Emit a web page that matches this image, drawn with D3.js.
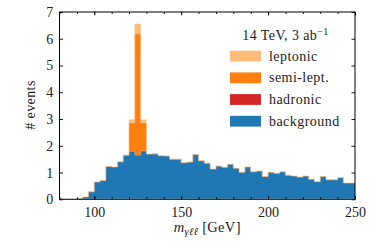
<!DOCTYPE html>
<html>
<head>
<meta charset="utf-8">
<script src="https://cdn.jsdelivr.net/npm/d3@7"></script>
<style>
  body { margin: 0; background: #fff; }
  text { font-family: "Liberation Serif", "DejaVu Serif", serif; fill: #222; }
</style>
</head>
<body>
<div id="chart"></div>
<script>
// histogram binning: 51 bins of 10/3 GeV from 80 to 250
var binStart = 80, binWidth = 10 / 3;

var background = [0, 0, 0, 0.03, 0.09, 0.28, 0.65, 0.70, 1.23, 1.21,
  1.40, 1.65, 1.79, 1.64, 1.80, 1.69, 1.70, 1.63, 1.62, 1.50,
  1.50, 1.37, 1.39, 1.67, 1.44, 1.35, 1.13, 1.24, 1.20, 1.31,
  1.16, 1.01, 1.21, 1.03, 1.06, 0.85, 1.01, 0.97, 1.03, 0.90,
  0.87, 0.83, 0.87, 0.75, 0.66, 0.85, 0.73, 0.73, 0.81, 0.61, 0.61];
// signal only in the three bins around 125 GeV (bins 12, 13, 14)
var signalBins = [12, 13, 14];
var hadronicPeak = [0.01, 0.02, 0.01];
var semileptPeak = [1.06, 4.52, 1.05];
var leptonicPeak = [0.11, 0.37, 0.11];

var keys = ['background', 'hadronic', 'semilept', 'leptonic'];
var labels = ['background', 'hadronic', 'semi-lept.', 'leptonic'];
var colors = {background: '#1f77b4', hadronic: '#d62728', semilept: '#ff7f0e', leptonic: '#ffbb78'};
var xMajor = [100, 150, 200, 250];
var xMinor = d3.range(80, 251, 10);
var yMajor = [0, 1, 2, 3, 4, 5, 6, 7];

function draw() {
  var W = 374, H = 249;
  var mLeft = 59.5, mRight = 355, mTop = 12, mBottom = 199.3;
  var fs = '14px';

  var svg = d3.select('#chart').append('svg')
    .attr('width', W).attr('height', H);

  var x = d3.scaleLinear().domain([80, 250]).range([mLeft, mRight]);
  var y = d3.scaleLinear().domain([0, 7]).range([mBottom, mTop]);

  function peak(arr, i) {
    var k = signalBins.indexOf(i);
    return k >= 0 ? arr[k] : 0;
  }

  // rows per bin, plus one closing row so the step reaches 250
  var rows = background.map(function(d, i) {
    return {edge: binStart + i * binWidth, background: d,
      hadronic: peak(hadronicPeak, i), semilept: peak(semileptPeak, i), leptonic: peak(leptonicPeak, i)};
  });
  var last = Object.assign({}, rows[rows.length - 1]);
  last.edge = binStart + rows.length * binWidth;
  rows.push(last);

  var series = d3.stack().keys(keys)(rows);

  var area = d3.area()
    .curve(d3.curveStepAfter)
    .x(function(d) { return x(d.data.edge); })
    .y0(function(d) { return y(d[0]); })
    .y1(function(d) { return y(d[1]); });

  svg.append('clipPath').attr('id', 'plotclip')
    .append('rect')
    .attr('x', mLeft).attr('y', mTop)
    .attr('width', mRight - mLeft).attr('height', mBottom - mTop - 0.5);

  svg.append('g').attr('clip-path', 'url(#plotclip)')
    .selectAll('path')
    .data(series)
    .enter().append('path')
      .attr('d', area)
      .style('fill', function(s) { return colors[s.key]; })
      .style('stroke', function(s) { return s.key == 'leptonic' ? colors[s.key] : 'none'; })
      .style('stroke-width', 0.4);

  // axes with inward ticks on all four sides
  function styleAxis(g) {
    g.select('.domain').remove();
    g.selectAll('line').style('stroke', '#000').style('stroke-width', 0.9);
    g.selectAll('text').style('font-size', fs).style('font-family', '"Liberation Serif", serif').style('fill', '#222');
  }

  svg.append('g').attr('transform', 'translate(0,' + mBottom + ')')
    .call(d3.axisBottom(x).tickValues(xMinor).tickSize(-2).tickFormat(''))
    .call(styleAxis);
  svg.append('g').attr('transform', 'translate(0,' + mBottom + ')')
    .call(d3.axisBottom(x).tickValues(xMajor).tickSize(-3.5).tickPadding(8.2).tickFormat(d3.format('d')))
    .call(styleAxis);
  svg.append('g').attr('transform', 'translate(0,' + mTop + ')')
    .call(d3.axisTop(x).tickValues(xMinor).tickSize(-2).tickFormat(''))
    .call(styleAxis);
  svg.append('g').attr('transform', 'translate(0,' + mTop + ')')
    .call(d3.axisTop(x).tickValues(xMajor).tickSize(-3.5).tickFormat(''))
    .call(styleAxis);
  svg.append('g').attr('transform', 'translate(' + mLeft + ',0)')
    .call(d3.axisLeft(y).tickValues(yMajor).tickSize(-3.5).tickPadding(6.2).tickFormat(d3.format('d')))
    .call(styleAxis);
  svg.append('g').attr('transform', 'translate(' + mRight + ',0)')
    .call(d3.axisRight(y).tickValues(yMajor).tickSize(-3.5).tickFormat(''))
    .call(styleAxis);

  svg.append('rect')
    .attr('x', mLeft).attr('y', mTop)
    .attr('width', mRight - mLeft).attr('height', mBottom - mTop)
    .style('fill', 'none').style('stroke', '#000').style('stroke-width', 1);

  // axis titles
  svg.append('text')
    .attr('transform', 'translate(35,105) rotate(-90)')
    .style('text-anchor', 'middle')
    .style('font-size', fs)
    .style('letter-spacing', '0.4px')
    .text('# events');

  var xl = svg.append('text')
    .attr('x', (mLeft + mRight) / 2).attr('y', 232)
    .style('text-anchor', 'middle')
    .style('font-size', '14.5px')
    .style('letter-spacing', '0.3px');
  xl.append('tspan').style('font-style', 'italic').text('m');
  xl.append('tspan').attr('dy', 3).style('font-size', '10.5px').style('font-style', 'italic').text('γℓℓ');
  xl.append('tspan').attr('dy', -3).text(' [GeV]');

  // legend
  var lt = svg.append('text')
    .attr('x', 285.5).attr('y', 40)
    .style('text-anchor', 'middle')
    .style('font-size', fs)
    .style('letter-spacing', '0.4px');
  lt.append('tspan').text('14 TeV,  3 ab');
  lt.append('tspan').attr('dy', -5.5).style('font-size', '10px').text('−1');

  var legendKeys = ['leptonic', 'semilept', 'hadronic', 'background'];
  var legend = svg.append('g').selectAll('g')
    .data(legendKeys)
    .enter().append('g')
      .attr('transform', function(d, i) { return 'translate(230,' + (50.7 + i * 21.7) + ')'; });

  legend.append('rect')
    .attr('width', 31).attr('height', 10.8)
    .style('fill', function(d) { return colors[d]; });

  legend.append('text')
    .attr('x', 39).attr('y', 5.4).attr('dy', '0.33em')
    .style('font-size', fs)
    .style('letter-spacing', '0.45px')
    .text(function(d) { return labels[keys.indexOf(d)]; });
}

draw();
</script>
</body>
</html>
